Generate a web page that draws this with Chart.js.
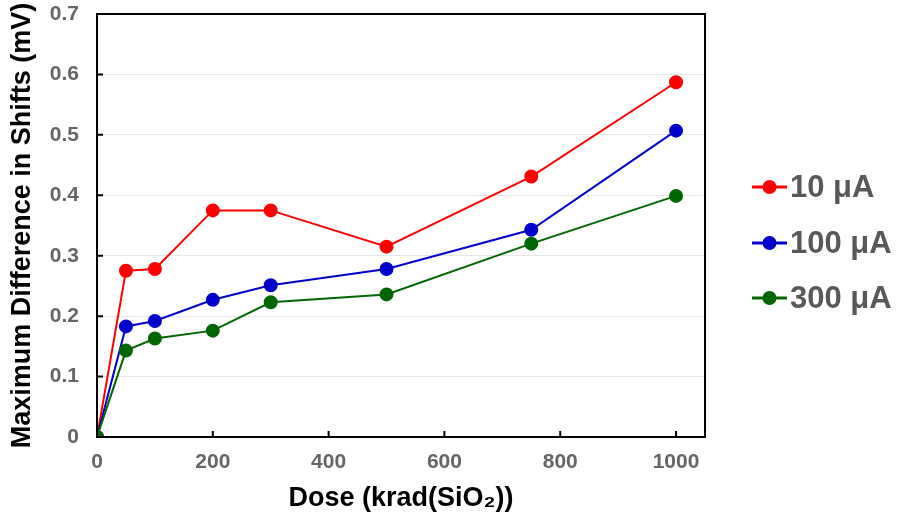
<!DOCTYPE html>
<html>
<head>
<meta charset="utf-8">
<script src="https://cdn.jsdelivr.net/npm/chart.js@4"></script>
<style>
  html, body { margin: 0; padding: 0; background: #fff; }
  #wrap { width: 898px; height: 519px; }
</style>
</head>
<body>
<div id="wrap"><canvas id="lineChart" width="898" height="519"></canvas></div>
<script>
// data
const doses = [0, 50, 100, 200, 300, 500, 750, 1000];
const shift10uA = [0, 0.275, 0.278, 0.375, 0.375, 0.315, 0.431, 0.587];
const shift100uA = [0, 0.183, 0.192, 0.227, 0.251, 0.278, 0.343, 0.507];
const shift300uA = [0, 0.143, 0.163, 0.176, 0.223, 0.236, 0.320, 0.399];
const seriesLabels = ['10 μA', '100 μA', '300 μA'];
const seriesColors = ['#ff0000', '#0000cc', '#006600'];
const xTicks = [0, 200, 400, 600, 800, 1000];
const yTicks = [0, 0.1, 0.2, 0.3, 0.4, 0.5, 0.6, 0.7];

const tickFont = { family: 'Liberation Sans, Arial', size: 21, weight: 'bold' };
const titleFont = { family: 'Liberation Sans, Arial', size: 27, weight: 'bold' };

function toPoints(vals) {
  return vals.map((v, i) => ({ x: doses[i], y: v }));
}

const allSeries = [shift10uA, shift100uA, shift300uA];

// frame box, inward ticks and the side legend
const framePlugin = {
  id: 'frame',
  afterDraw(chart) {
    const ctx = chart.ctx;
    const a = chart.chartArea;
    const xs = chart.scales.x, ys = chart.scales.y;
    ctx.save();
    ctx.strokeStyle = '#000';
    ctx.lineWidth = 2;
    ctx.strokeRect(a.left, a.top, a.right - a.left, a.bottom - a.top);
    ctx.beginPath();
    xTicks.forEach(t => {
      const px = xs.getPixelForValue(t);
      ctx.moveTo(px, a.bottom);
      ctx.lineTo(px, a.bottom - 6);
    });
    yTicks.forEach(t => {
      const py = ys.getPixelForValue(t);
      ctx.moveTo(a.left, py);
      ctx.lineTo(a.left + 6, py);
    });
    ctx.stroke();

    // legend
    const lx = 752, ly = [187, 243, 298];
    ctx.font = 'bold 31px "Liberation Sans", Arial';
    ctx.textBaseline = 'middle';
    ctx.textAlign = 'left';
    seriesLabels.forEach((lab, i) => {
      ctx.strokeStyle = seriesColors[i];
      ctx.fillStyle = seriesColors[i];
      ctx.lineWidth = 3;
      ctx.beginPath();
      ctx.moveTo(lx, ly[i]);
      ctx.lineTo(lx + 35, ly[i]);
      ctx.stroke();
      ctx.beginPath();
      ctx.arc(lx + 17.5, ly[i], 7, 0, Math.PI * 2);
      ctx.fill();
      ctx.fillStyle = '#595959';
      ctx.fillText(lab, lx + 38, ly[i] + 1);
    });
    ctx.restore();
  }
};

new Chart(document.getElementById('lineChart').getContext('2d'), {
  type: 'line',
  data: {
    datasets: allSeries.map((vals, i) => ({
      label: seriesLabels[i],
      data: toPoints(vals),
      borderColor: seriesColors[i],
      backgroundColor: seriesColors[i],
      borderWidth: 2,
      pointRadius: 6,
      pointHoverRadius: 6,
      fill: false,
      tension: 0
    })).reverse()
  },
  options: {
    responsive: false,
    animation: false,
    layout: { padding: { left: 0, right: 193, top: 14, bottom: 0 } },
    plugins: { legend: { display: false }, tooltip: { enabled: false } },
    scales: {
      x: {
        type: 'linear',
        min: 0,
        max: 1050,
        afterBuildTicks: s => { s.ticks = xTicks.map(v => ({ value: v })); },
        afterFit: s => { s.height = 82; },
        grid: { display: false, drawTicks: false },
        border: { display: false },
        ticks: { color: '#666', font: tickFont, padding: 13, callback: v => String(v) },
        title: { display: true, text: 'Dose (krad(SiO₂))', color: '#000', font: titleFont, padding: { top: 6 } }
      },
      y: {
        min: 0,
        max: 0.7,
        afterBuildTicks: s => { s.ticks = yTicks.map(v => ({ value: v })); },
        afterFit: s => { s.width = 97; s.paddingTop = 0; s.paddingBottom = 0; },
        grid: { color: '#e6e6e6', lineWidth: 1, drawTicks: false },
        border: { display: false },
        ticks: {
          color: '#666', font: tickFont, padding: 18,
          callback: v => v === 0 ? '0' : v.toFixed(1)
        },
        title: { display: true, text: 'Maximum Difference in Shifts (mV)', color: '#000', font: titleFont, padding: { top: 6, bottom: 4 } }
      }
    }
  },
  plugins: [framePlugin]
});
</script>
</body>
</html>
